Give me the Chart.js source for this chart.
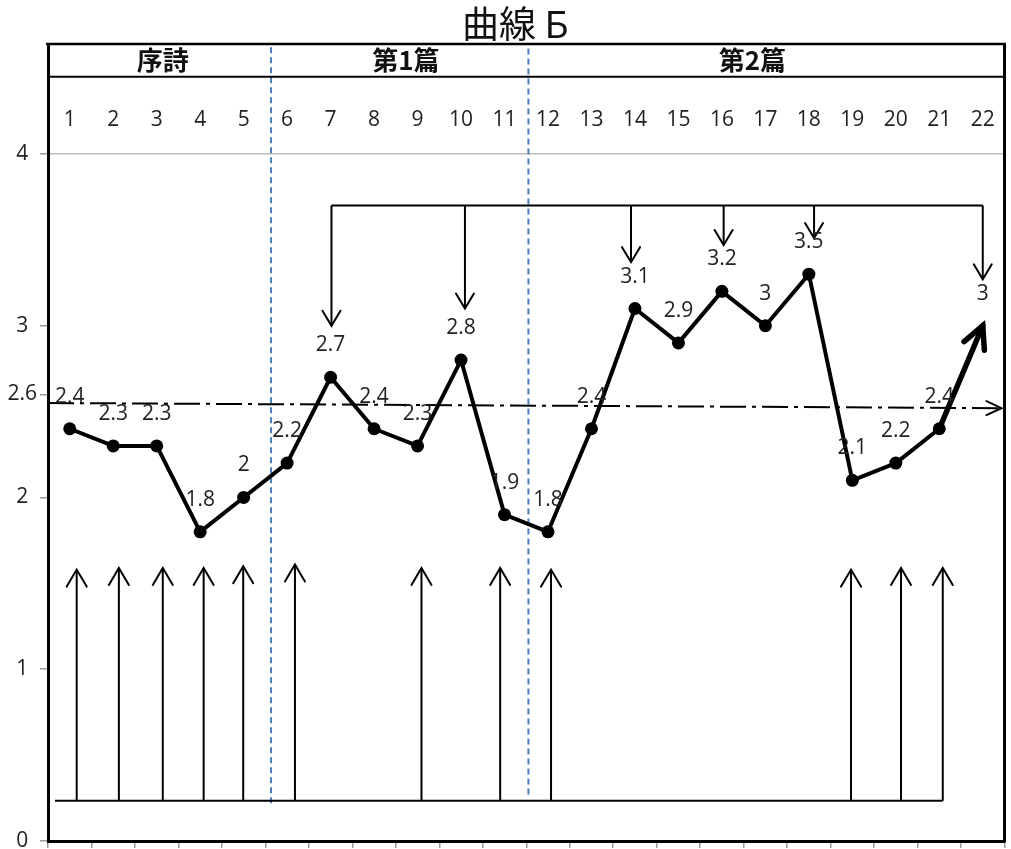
<!DOCTYPE html>
<html>
<head>
<meta charset="utf-8">
<script src="https://cdn.jsdelivr.net/npm/chart.js@4.4.1/dist/chart.umd.min.js"></script>
<style>
html,body{margin:0;padding:0;background:#fff;}
canvas{display:block;}
</style>
</head>
<body>
<canvas id="c" width="1011" height="849"></canvas>
<script>
// ---------- data ----------
const chartTitle = '曲線 Б';
const categories = ['1','2','3','4','5','6','7','8','9','10','11','12','13','14','15','16','17','18','19','20','21','22'];
const values = [2.4, 2.3, 2.3, 1.8, 2.0, 2.2, 2.7, 2.4, 2.3, 2.8, 1.9, 1.8, 2.4, 3.1, 2.9, 3.2, 3.0, 3.3, 2.1, 2.2, 2.4, 3.0];
const valueLabels = ['2.4','2.3','2.3','1.8','2','2.2','2.7','2.4','2.3','2.8','1.9','1.8','2.4','3.1','2.9','3.2','3','3.5','2.1','2.2','2.4','3'];
const yTicks = [0, 1, 2, 2.6, 3, 4];
const sectionNames = ['序詩', '第1篇', '第2篇'];
const sectionCenters = [3.14, 8.73, 16.7];
const sectionDividers = [5.63, 11.55];
const dividerBottoms = [0.22, 0.27];
const referenceLineX = [0.5, 22.43];
const referenceLineY = [2.55, 2.52];
const downBracketY = 3.7;
const downArrowX = [7.02, 10.09, 13.91, 16.04, 18.12, 22.0];
const downArrowTip = [3.0, 3.1, 3.37, 3.47, 3.51, 3.27];
const upBaseY = 0.235;
const upBaseX = [0.66, 21.08];
const upArrowX = [1.16, 2.13, 3.14, 4.08, 4.99, 6.18, 9.09, 10.9, 12.07, 18.97, 20.12, 21.08];
const upArrowTip = [1.58, 1.59, 1.59, 1.59, 1.6, 1.61, 1.59, 1.59, 1.58, 1.58, 1.59, 1.59];

// ---------- datasets ----------
const numFont = '"Open Sans", "DejaVu Sans", sans-serif';
const cjkFont = '"Noto Sans CJK JP", "Noto Sans", sans-serif';

const datasets = [];
datasets.push({
  label: 'main',
  data: values,
  borderColor: '#000',
  backgroundColor: '#000',
  borderWidth: 4,
  borderJoinStyle: 'round',
  borderCapStyle: 'round',
  tension: 0,
  pointRadius: values.map((v, i) => i === values.length - 1 ? 0 : 6.5),
  pointBackgroundColor: '#000',
  pointBorderWidth: 0,
  segment: { borderWidth: ctx => ctx.p1DataIndex === values.length - 1 ? 5.5 : 4 },
  arrowHead: { len: 22, half: 11, width: 5.5 }
});
datasets.push({
  label: 'ref',
  data: [{x: referenceLineX[0], y: referenceLineY[0]}, {x: referenceLineX[1], y: referenceLineY[1]}],
  borderColor: '#000', borderWidth: 2, borderDash: [26, 6, 4, 6], pointRadius: 0,
  arrowHead: { len: 15, half: 7, width: 2 }
});
datasets.push({
  label: 'bracket',
  data: [{x: downArrowX[0], y: downBracketY}, {x: downArrowX[downArrowX.length - 1], y: downBracketY}],
  borderColor: '#000', borderWidth: 2, pointRadius: 0
});
downArrowX.forEach((x, i) => datasets.push({
  label: 'down' + i,
  data: [{x: x, y: downBracketY}, {x: x, y: downArrowTip[i]}],
  borderColor: '#000', borderWidth: 2, pointRadius: 0,
  arrowHead: { len: 15, half: 9, width: 2 }
}));
datasets.push({
  label: 'base',
  data: [{x: upBaseX[0], y: upBaseY}, {x: upBaseX[1], y: upBaseY}],
  borderColor: '#000', borderWidth: 2, pointRadius: 0
});
upArrowX.forEach((x, i) => datasets.push({
  label: 'up' + i,
  data: [{x: x, y: upBaseY}, {x: x, y: upArrowTip[i]}],
  borderColor: '#000', borderWidth: 2, pointRadius: 0,
  arrowHead: { len: 17, half: 10, width: 2 }
}));
sectionDividers.forEach((x, i) => datasets.push({
  label: 'div' + i,
  data: [{x: x, y: dividerBottoms[i]}, {x: x, y: 4.64}],
  borderColor: '#4a7ebb', borderWidth: 2, borderDash: [6, 4], pointRadius: 0
}));

// ---------- plugins ----------
function drawHead(ctx, x0, y0, x1, y1, len, half, w) {
  const dx = x1 - x0, dy = y1 - y0, d = Math.hypot(dx, dy) || 1;
  const ux = dx / d, uy = dy / d;
  const bx = x1 - ux * len, by = y1 - uy * len;
  ctx.save();
  ctx.setLineDash([]);
  ctx.lineWidth = w;
  ctx.strokeStyle = '#000';
  ctx.lineCap = 'round';
  ctx.lineJoin = 'miter';
  ctx.beginPath();
  ctx.moveTo(bx - uy * half, by + ux * half);
  ctx.lineTo(x1, y1);
  ctx.lineTo(bx + uy * half, by - ux * half);
  ctx.stroke();
  ctx.restore();
}

const decorPlugin = {
  id: 'decor',
  afterDatasetsDraw(chart) {
    const ctx = chart.ctx;
    chart.data.datasets.forEach((ds, i) => {
      if (!ds.arrowHead) return;
      const pts = chart.getDatasetMeta(i).data;
      const a = pts[pts.length - 2], b = pts[pts.length - 1];
      drawHead(ctx, a.x, a.y, b.x, b.y, ds.arrowHead.len, ds.arrowHead.half, ds.arrowHead.width);
    });
    const meta = chart.getDatasetMeta(0);
    ctx.save();
    ctx.fillStyle = '#222';
    ctx.font = '21px ' + numFont;
    ctx.textAlign = 'center';
    ctx.textBaseline = 'middle';
    meta.data.forEach((el, i) => ctx.fillText(valueLabels[i], el.x, el.y - 32));
    ctx.restore();
  },
  afterDraw(chart) {
    const ctx = chart.ctx, ca = chart.chartArea;
    const xs = chart.scales.x, ys = chart.scales.y;
    ctx.save();
    ctx.strokeStyle = '#000';
    ctx.lineWidth = 2.5;
    ctx.beginPath(); ctx.moveTo(ca.left - 2, ca.top); ctx.lineTo(ca.right + 1.5, ca.top); ctx.stroke();
    ctx.lineWidth = 3;
    ctx.beginPath(); ctx.moveTo(ca.right, ca.top); ctx.lineTo(ca.right, ca.bottom + 1); ctx.stroke();
    const rowY = ys.getPixelForValue(4.45);
    ctx.lineWidth = 2;
    ctx.beginPath(); ctx.moveTo(ca.left, rowY); ctx.lineTo(ca.right, rowY); ctx.stroke();
    ctx.fillStyle = '#111';
    ctx.textAlign = 'center';
    ctx.textBaseline = 'middle';
    ctx.font = 'bold 26px ' + cjkFont;
    sectionNames.forEach((n, i) => ctx.fillText(n, xs.getPixelForValue(sectionCenters[i]), ys.getPixelForValue(4.545)));
    ctx.fillStyle = '#222';
    ctx.font = '21px ' + numFont;
    categories.forEach(c => ctx.fillText(c, xs.getPixelForValue(Number(c)), ys.getPixelForValue(4.2)));
    ctx.fillStyle = '#111';
    ctx.font = '37px ' + cjkFont;
    ctx.fillText(chartTitle, (ca.left + ca.right) / 2 - 11, 24);
    ctx.restore();
  }
};

new Chart(document.getElementById('c'), {
  type: 'line',
  data: { labels: categories, datasets: datasets },
  plugins: [decorPlugin],
  options: {
    responsive: false,
    devicePixelRatio: 1,
    animation: false,
    events: [],
    layout: { padding: { top: 44, right: 3, bottom: 1, left: 0 } },
    plugins: { legend: { display: false }, tooltip: { enabled: false }, title: { display: false } },
    scales: {
      x: {
        type: 'linear',
        min: 0.5, max: 22.5,
        afterBuildTicks: s => { s.ticks = categories.map((c, i) => ({ value: i + 0.5 })).concat([{ value: categories.length + 0.5 }]); },
        ticks: { display: false },
        grid: { drawOnChartArea: false, color: '#999', tickLength: 7, lineWidth: 1.5 },
        border: { color: '#000', width: 3 }
      },
      y: {
        type: 'linear',
        min: 0, max: 4.64,
        afterBuildTicks: s => { s.ticks = yTicks.map(v => ({ value: v })); },
        afterFit: s => { s.width = 48; s.paddingBottom = 0; s.paddingTop = 0; },
        ticks: {
          font: { family: numFont, size: 21, lineHeight: 0.6 },
          color: '#222',
          crossAlign: 'center',
          padding: 3,
          callback: v => String(v)
        },
        grid: {
          color: ctx => (ctx.tick && ctx.tick.value === 4) ? '#bdbdbd' : 'rgba(0,0,0,0)',
          tickColor: '#999',
          tickLength: 8,
          lineWidth: 1.5
        },
        border: { color: '#000', width: 3 }
      }
    }
  }
});
</script>
</body>
</html>
